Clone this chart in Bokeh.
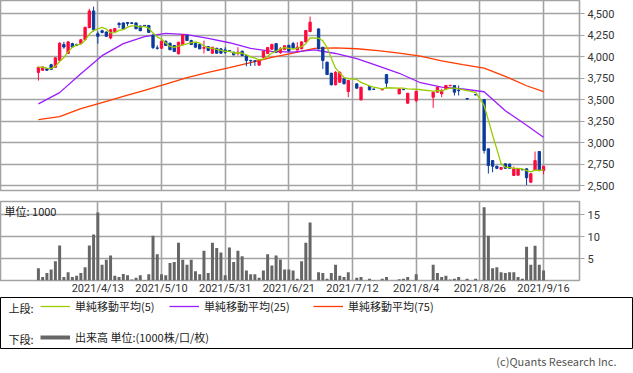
import numpy as np
import pandas as pd
from bokeh.plotting import figure
from bokeh.models import (Range1d, LinearAxis, FixedTicker, NumeralTickFormatter, Grid,
                          ColumnDataSource, Label, Legend, LegendItem)
from bokeh.layouts import column
from bokeh.embed import file_html
from bokeh.resources import INLINE

# ---------------- data (trading-day index 0 = 2021/3/24) ----------------
tick_idx = [14, 29, 44, 59, 74, 89, 104, 119]
tick_labels = ["2021/4/13", "2021/5/10", "2021/5/31", "2021/6/21",
               "2021/7/12", "2021/8/4", "2021/8/26", "2021/9/16"]
price_ticks = [2500, 2750, 3000, 3250, 3500, 3750, 4000, 4250, 4500]
vol_ticks = [5, 10, 15]

N = None
opens = [3815, 3840, 3858, 3905, 3875, 3955, 4140, 4035, 4150, 4140,
         4150, 4195, 4335, 4530, 4265, 4300, 4285, 4215, 4290, 4385,
         4390, 4395, 4392, 4390, 4355, 4362, 4360, 4250, 4100, 4096,
         4178, 4155, 4128, 4031, 4136, 4244, 4186, 4155, 4139, 4095,
         4116, 4038, 4096, 4089, 4077, 4070, 4050, 4040, 4062, 4011,
         3955, 3950, 3900, 3992, 4035, 4085, 4150, 4045, 4080, 4130,
         4150, 4075, 4090, 4170, 4290, N, 4321, 4108, 3934, 3806,
         3671, 3701, 3740, 3593, N, 3682, 3496, N, 3651, 3622,
         N, 3612, 3790, N, N, 3566, 3618, 3457, N, 3488,
         N, N, N, 3527, 3585, 3566, 3624, 3660, 3663, 3610,
         N, 3512, N, 3558, N, 3500, 2926, 2790, 2724, 2690,
         2752, 2750, 2616, 2620, 2685, 2694, 2538, 2674, 2895, 2674]
highs = [3880, 3885, 3865, 3915, 3990, 4165, 4170, 4180, 4160, 4150,
         4200, 4345, 4555, 4580, 4290, 4310, 4290, 4320, 4330, 4400,
         4395, 4400, 4395, 4395, 4360, 4365, 4365, 4255, 4130, 4185,
         4185, 4160, 4135, 4170, 4260, 4250, 4195, 4160, 4145, 4186,
         4120, 4112, 4100, 4095, 4108, 4075, 4055, 4108, 4066, 4015,
         3960, 3955, 3955, 4065, 4110, 4150, 4155, 4110, 4130, 4135,
         4170, 4166, 4175, 4310, 4465, N, 4325, 4110, 3940, 3810,
         3829, 3825, 3745, 3725, N, 3686, 3646, N, 3655, 3625,
         N, 3622, 3795, N, N, 3628, 3622, 3575, N, 3598,
         N, N, N, 3590, 3648, 3624, 3667, 3668, 3668, 3663,
         N, 3515, N, 3562, N, 3505, 2930, 2795, 2730, 2715,
         2755, 2752, 2720, 2700, 2690, 2698, 2645, 2895, 2900, 2728]
lows = [3720, 3835, 3835, 3845, 3870, 3950, 4090, 4030, 4100, 4120,
        4145, 4190, 4330, 4290, 4150, 4270, 4230, 4200, 4285, 4330,
        4320, 4355, 4380, 4320, 4295, 4350, 4275, 4085, 4080, 4090,
        4125, 4075, 4055, 4025, 4130, 4180, 4135, 4105, 4085, 4035,
        4065, 4035, 4035, 4035, 4031, 4055, 4015, 4011, 4008, 3887,
        3890, 3890, 3890, 3985, 4030, 4080, 4045, 4030, 4075, 4060,
        4095, 4070, 4085, 4165, 4283, N, 4080, 3856, 3785, 3665,
        3665, 3695, 3678, 3527, N, 3628, 3490, N, 3608, 3615,
        N, 3608, 3635, N, N, 3560, 3612, 3452, N, 3468,
        N, N, N, 3403, 3580, 3527, 3620, 3655, 3547, 3547,
        N, 3500, N, 3550, N, 2872, 2639, 2654, 2690, 2680,
        2695, 2695, 2610, 2615, 2680, 2505, 2535, 2670, 2665, 2630]
closes = [3875, 3878, 3840, 3850, 3985, 4155, 4110, 4170, 4110, 4130,
          4195, 4340, 4530, 4310, 4235, 4280, 4235, 4310, 4325, 4370,
          4320, 4385, 4385, 4322, 4300, 4355, 4280, 4105, 4095, 4178,
          4128, 4078, 4058, 4166, 4252, 4186, 4139, 4108, 4089, 4105,
          4070, 4108, 4038, 4038, 4050, 4060, 4019, 4050, 4011, 3953,
          3950, 3945, 3950, 4062, 4105, 4140, 4050, 4090, 4125, 4065,
          4100, 4110, 4170, 4302, 4399, N, 4090, 3953, 3790, 3671,
          3817, 3817, 3682, 3721, N, 3631, 3643, N, 3612, 3618,
          N, 3620, 3690, N, N, 3624, 3614, 3573, N, 3596,
          N, N, N, 3585, 3643, 3605, 3663, 3665, 3585, 3603,
          N, 3505, N, 3553, N, 2907, 2732, 2724, 2700, 2710,
          2700, 2700, 2694, 2694, 2682, 2590, 2636, 2790, 2674, 2724]
volumes = [2.8, 0.8, 1.7, 2.5, 4.4, 8.0, 0.8, 1.9, 0.8, 1.1,
           1.7, 3.0, 8.0, 10.5, 15.5, 3.6, 4.7, 5.7, 1.1, 0.8,
           1.5, 1.2, 0.2, 0.6, 1.2, 0.1, 1.4, 10.2, 6.0, 1.4,
           1.2, 4.0, 4.2, 8.6, 4.7, 3.6, 4.7, 2.1, 1.4, 6.8,
           1.7, 8.6, 7.4, 6.4, 1.2, 7.5, 4.2, 6.8, 5.5, 2.3,
           1.4, 1.4, 0.6, 2.3, 6.0, 3.4, 5.7, 4.8, 2.5, 2.5,
           2.3, 0.4, 4.4, 8.6, 13.2, 0, 1.9, 1.7, 0.4, 1.7,
           3.6, 1.1, 0.8, 1.9, 0, 0.6, 0.8, 0, 0.4, 0.1,
           0, 0.4, 0.8, 0, 0, 0.3, 0.4, 0.8, 0, 1.4,
           0, 0, 0, 3.6, 1.7, 0.8, 1.1, 0.2, 0.4, 0.8,
           0, 0.4, 0, 0.4, 0, 16.7, 10.2, 2.8, 3.0, 1.9,
           1.7, 1.9, 1.9, 0.8, 0.4, 7.7, 3.6, 7.9, 3.6, 2.3]

ma25_idx = [0, 5, 10, 15, 20, 25, 30, 35, 40, 45, 50, 55, 60, 65, 70,
            75, 80, 85, 90, 95, 100, 105, 110, 115, 119]
ma25_val = [3450, 3580, 3800, 4010, 4150, 4230, 4268, 4255, 4210, 4160,
            4095, 4060, 4052, 4078, 4035, 3975, 3892, 3805, 3695, 3645,
            3622, 3590, 3370, 3200, 3060]
ma75_idx = [0, 5, 10, 15, 20, 25, 30, 35, 40, 45, 50, 55, 60, 65, 70,
            75, 80, 85, 90, 95, 100, 105, 110, 115, 119]
ma75_val = [3265, 3300, 3395, 3465, 3535, 3605, 3680, 3755, 3815, 3870,
            3930, 3990, 4040, 4095, 4100, 4090, 4068, 4040, 4005, 3950,
            3905, 3865, 3770, 3660, 3592]

# ---------------- styles ----------------
RED = "#ff0a3c"
BLUE = "#0a3a9c"
C_MA5 = "#99cc00"
C_MA25 = "#9b1cff"
C_MA75 = "#ff3c00"
C_VOL = "#666666"
GRID = "#a3a3a3"
FONT = "Noto Sans CJK JP"
NUMFONT = "Roboto"
TXT = "#333333"

df = pd.DataFrame({"o": opens, "h": highs, "l": lows, "c": closes, "v": volumes},
                  dtype="float64")
df["i"] = np.arange(len(df))
cd = df.dropna(subset=["o"]).copy()
cd["top"] = cd[["o", "c"]].max(axis=1)
cd["bot"] = cd[["o", "c"]].min(axis=1)
cd["col"] = np.where(cd["c"] >= cd["o"], RED, BLUE)
cd["ma5"] = cd["c"].rolling(5, min_periods=1).mean()
csrc = ColumnDataSource(cd)
vsrc = ColumnDataSource(df[df["v"] > 0])

x_range = Range1d(-8.93, 127.47)

def style_axis(ax):
    ax.major_label_text_font = NUMFONT
    ax.major_label_text_font_size = "11px"
    ax.major_label_text_color = TXT
    ax.minor_tick_line_color = None

def base_fig(**kw):
    p = figure(output_backend="svg", toolbar_location=None,
               x_axis_location=None, y_axis_location=None, **kw)
    p.frame_align = False
    # drop the figure's own default grids; explicit grids are added where wanted
    p.center = [c for c in p.center if not isinstance(c, Grid)]
    return p

# ---------------- price chart ----------------
p1 = base_fig(frame_width=579, frame_height=190, x_range=x_range,
              y_range=Range1d(2441.9, 4651.2),
              min_border_left=0, min_border_right=54, min_border_top=0, min_border_bottom=6)
p1.outline_line_color = GRID
p1.outline_line_width = 1.6
p1.add_layout(Grid(dimension=0, ticker=FixedTicker(ticks=tick_idx),
                   grid_line_color=GRID, grid_line_width=1.6))
p1.add_layout(Grid(dimension=1, ticker=FixedTicker(ticks=price_ticks),
                   grid_line_color=GRID, grid_line_width=1.6))
ax1 = LinearAxis(ticker=FixedTicker(ticks=price_ticks),
                 formatter=NumeralTickFormatter(format="0,0"),
                 major_tick_out=5, major_tick_in=0, major_label_standoff=3,
                 axis_line_color=GRID, major_tick_line_color=GRID)
style_axis(ax1)
p1.add_layout(ax1, "right")

p1.line(ma75_idx, ma75_val, line_color=C_MA75, line_width=1.3)
p1.line(ma25_idx, ma25_val, line_color=C_MA25, line_width=1.3)
p1.segment(x0="i", y0="h", x1="i", y1="l", line_color="col", line_width=1, source=csrc)
p1.vbar(x="i", width=0.55, top="top", bottom="bot", fill_color="col",
        line_color="col", line_width=1, source=csrc)
p1.line(x="i", y="ma5", line_color=C_MA5, line_width=1.3, source=csrc)

# ---------------- volume chart ----------------
p2 = base_fig(frame_width=579, frame_height=79, x_range=x_range, y_range=Range1d(0, 18),
              min_border_left=0, min_border_right=54, min_border_top=5, min_border_bottom=0)
p2.outline_line_color = GRID
p2.outline_line_width = 1.6
p2.add_layout(Grid(dimension=0, ticker=FixedTicker(ticks=tick_idx),
                   grid_line_color=GRID, grid_line_width=1.6))
p2.add_layout(Grid(dimension=1, ticker=FixedTicker(ticks=vol_ticks),
                   grid_line_color=GRID, grid_line_width=1.6))
ax2 = LinearAxis(ticker=FixedTicker(ticks=vol_ticks),
                 major_tick_out=5, major_tick_in=0, major_label_standoff=3,
                 axis_line_color=GRID, major_tick_line_color=GRID)
style_axis(ax2)
p2.add_layout(ax2, "right")
ax3 = LinearAxis(ticker=FixedTicker(ticks=tick_idx),
                 major_label_overrides={t: l for t, l in zip(tick_idx, tick_labels)},
                 major_tick_out=0, major_tick_in=0, major_label_standoff=1,
                 axis_line_color=None, major_tick_line_color=None)
style_axis(ax3)
p2.add_layout(ax3, "below")
p2.vbar(x="i", width=0.7, top="v", bottom=0, fill_color=C_VOL, line_color=None,
        source=vsrc)
p2.add_layout(Label(x=x_range.start, y=18, x_offset=4, y_offset=-1, text="単位: 1000",
                    text_baseline="top", text_font=FONT, text_font_size="11px",
                    text_color="#222222"))

# ---------------- legend box ----------------
p3 = base_fig(width=633, height=52, x_range=Range1d(0, 633), y_range=Range1d(0, 52),
              min_border_left=0, min_border_right=0, min_border_top=0, min_border_bottom=0)
p3.outline_line_color = "#000000"
p3.outline_line_width = 1
# legend-only renderers (hidden; they carry the real series so the legend glyphs draw)
r5 = p3.line(x=cd["i"], y=cd["ma5"], line_color=C_MA5, line_width=1.3, visible=False)
r25 = p3.line(x=ma25_idx, y=ma25_val, line_color=C_MA25, line_width=1.3, visible=False)
r75 = p3.line(x=ma75_idx, y=ma75_val, line_color=C_MA75, line_width=1.3, visible=False)
rv = p3.line(x=df["i"], y=df["v"], line_color=C_VOL, line_width=4, visible=False)

def mk_legend(label, r, x, y):
    lg = Legend(items=[LegendItem(label=label, renderers=[r])], location=(x, y),
                orientation="horizontal", padding=0, margin=0, spacing=0,
                glyph_width=30, glyph_height=12, label_height=12, label_width=10,
                label_standoff=5, border_line_color=None, background_fill_alpha=0,
                inactive_fill_alpha=0,
                label_text_font=FONT, label_text_font_size="11px",
                label_text_color="#222222")
    p3.add_layout(lg)

mk_legend("単純移動平均(5)", r5, 40, 35)
mk_legend("単純移動平均(25)", r25, 169, 35)
mk_legend("単純移動平均(75)", r75, 313, 35)
mk_legend("出来高 単位:(1000株/口/枚)", rv, 40, 4)
for txt, yy in (("上段:", 42), ("下段:", 11)):
    p3.add_layout(Label(x=8, y=yy, text=txt, text_baseline="middle", text_font=FONT,
                        text_font_size="11px", text_color="#222222"))

# ---------------- copyright ----------------
p4 = base_fig(width=633, height=26, x_range=Range1d(0, 633), y_range=Range1d(0, 26),
              min_border_left=0, min_border_right=0, min_border_top=0, min_border_bottom=0)
p4.outline_line_color = None
p4.add_layout(Label(x=616, y=15, text="(c)Quants Research Inc.", text_align="right",
                    text_baseline="middle", text_font=FONT, text_font_size="11px",
                    text_color="#555555"))

layout = column(p1, p2, p3, p4, spacing=0)

open("out.html", "w").write(file_html(layout, INLINE))
